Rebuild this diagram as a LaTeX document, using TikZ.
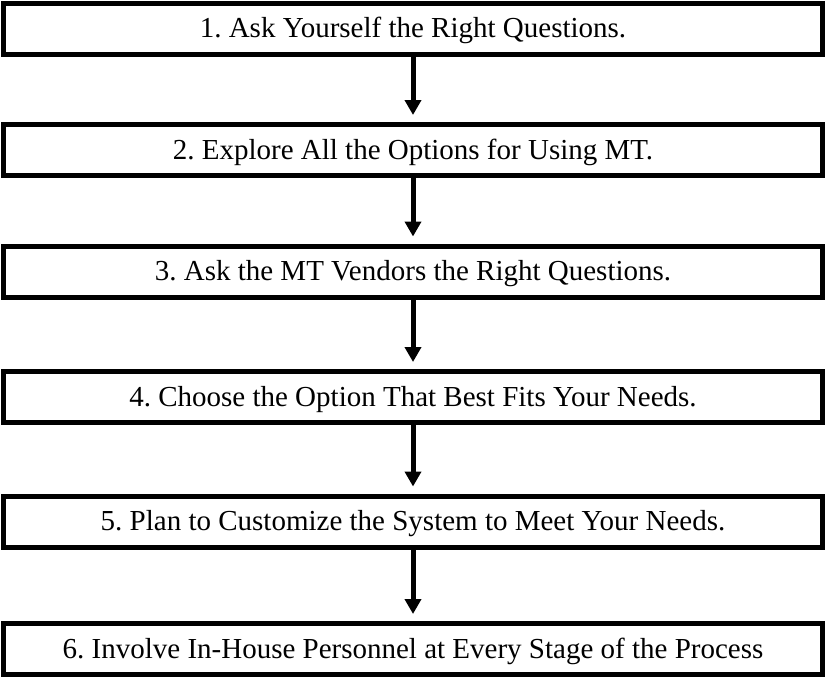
\documentclass[tikz,border=0pt]{standalone}
\usepackage{fontspec}
\setmainfont{Liberation Serif}
\frenchspacing
\usetikzlibrary{arrows.meta}
\begin{document}
\begin{tikzpicture}[x=1pt, y=-1pt,
		stepbox/.style={rectangle, draw, line width=5pt, minimum width=819pt, minimum height=51pt, inner sep=0pt, text centered, text height=22pt, text depth=4pt, font=\fontsize{29}{32}\selectfont},
		steplink/.style={-{Triangle[length=15pt, width=16pt]}, line width=5pt, shorten >=7pt}]
		\useasboundingbox (0,0) rectangle (826,683);
		
		%steps' nodes
		\node (Ask Yourself) at (413,28.5) [stepbox]{1. Ask Yourself the Right Questions.};
		\node (Explore Options) at (413,150) [stepbox]{2. Explore All the Options for Using MT.};
		\node (Ask Vendors) at (413,271.5) [stepbox]{3. Ask the MT Vendors the Right Questions.};
		\node (Choose Option) at (413,397) [stepbox]{4. Choose the Option That Best Fits Your Needs.};
		\node (Plan Customize) at (413,521.5) [stepbox]{5. Plan to Customize the System to Meet Your Needs.};
		\node (Involve Personnel) at (413,649) [stepbox]{6. Involve In-House Personnel at Every Stage of the Process};
		
		%steps links
		\draw[steplink] (Ask Yourself) -- (Explore Options);
		\draw[steplink] (Explore Options) -- (Ask Vendors);
		\draw[steplink] (Ask Vendors) -- (Choose Option);
		\draw[steplink] (Choose Option) -- (Plan Customize);
		\draw[steplink] (Plan Customize) -- (Involve Personnel);
		
\end{tikzpicture}
\end{document}
